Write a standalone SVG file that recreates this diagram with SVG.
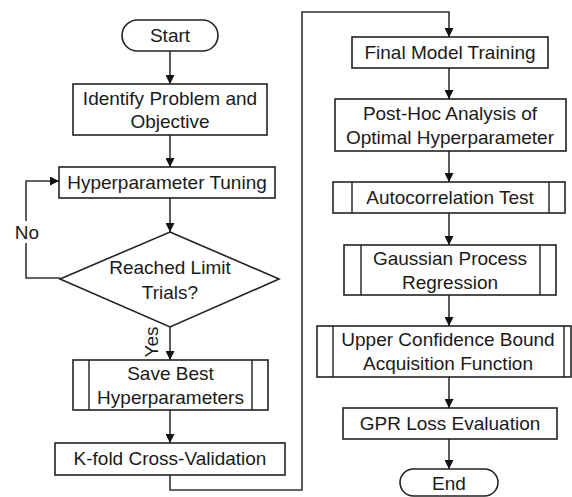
<svg xmlns="http://www.w3.org/2000/svg" width="572" height="497" viewBox="0 0 572 497">
  <style>
    .shape { fill: #ffffff; stroke: #222222; stroke-width: 1.6; }
    .bar { fill: none; stroke: #222222; stroke-width: 1.4; }
    .wire { fill: none; stroke: #333333; stroke-width: 1.6; }
    .label { font-family: "Liberation Sans", Arial, sans-serif; font-size: 19px; fill: #1a1a1a; text-anchor: middle; }
  </style>
  <defs>
    <marker id="arrow" viewBox="0 0 10 10" refX="10" refY="5" markerWidth="11" markerHeight="9" markerUnits="userSpaceOnUse" orient="auto">
      <path d="M0,0 L10,5 L0,10 Z" fill="#111111"/>
    </marker>
  </defs>
  <rect width="572" height="497" fill="#ffffff"/>

  <!-- connectors -->
  <g id="connectors">
    <path class="wire" d="M170,51 V84" marker-end="url(#arrow)"/>
    <path class="wire" d="M170,135 V167" marker-end="url(#arrow)"/>
    <path class="wire" d="M170,198 V232" marker-end="url(#arrow)"/>
    <path class="wire" d="M170,327 V360" marker-end="url(#arrow)"/>
    <path class="wire" d="M170,410 V443" marker-end="url(#arrow)"/>
    <path class="wire" d="M60,278 H26 V181 H59" marker-end="url(#arrow)"/>
    <path class="wire" d="M170,475 V490 H302 V12 H449 V37" marker-end="url(#arrow)"/>
    <path class="wire" d="M449,68 V99" marker-end="url(#arrow)"/>
    <path class="wire" d="M449,151 V182" marker-end="url(#arrow)"/>
    <path class="wire" d="M449,213 V245" marker-end="url(#arrow)"/>
    <path class="wire" d="M449,295 V326" marker-end="url(#arrow)"/>
    <path class="wire" d="M449,377 V408" marker-end="url(#arrow)"/>
    <path class="wire" d="M449,439 V469" marker-end="url(#arrow)"/>
    <g id="label-no">
      <rect x="13" y="221" width="28" height="22" fill="#ffffff"/>
      <text class="label" x="27" y="239">No</text>
    </g>
    <g id="label-yes">
      <rect x="140" y="326" width="22" height="32" fill="#ffffff"/>
      <text class="label" transform="translate(158,342) rotate(-90)" x="0" y="0">Yes</text>
    </g>
  </g>

  <!-- left column -->
  <g id="start">
    <rect class="shape" x="122" y="20" width="96" height="31" rx="15.5" ry="15.5"/>
    <text class="label" x="170" y="42">Start</text>
  </g>
  <g id="identify">
    <rect class="shape" x="73" y="84" width="194" height="51"/>
    <text class="label" x="170" y="104.5">Identify Problem and</text>
    <text class="label" x="170" y="128">Objective</text>
  </g>
  <g id="tuning">
    <rect class="shape" x="59" y="167" width="216" height="31"/>
    <text class="label" x="167" y="189">Hyperparameter Tuning</text>
  </g>
  <g id="limit">
    <polygon class="shape" points="170,232 279,279 170,327 60,279"/>
    <text class="label" x="170" y="273.5">Reached Limit</text>
    <text class="label" x="170" y="298.5">Trials?</text>
  </g>
  <g id="save">
    <rect class="shape" x="73" y="360" width="195" height="50"/>
    <path class="bar" d="M89,360 V410 M252,360 V410"/>
    <text class="label" x="170.5" y="380">Save Best</text>
    <text class="label" x="170.5" y="404">Hyperparameters</text>
  </g>
  <g id="kfold">
    <rect class="shape" x="55" y="443" width="230" height="32"/>
    <text class="label" x="170" y="465">K-fold Cross-Validation</text>
  </g>

  <!-- right column -->
  <g id="final">
    <rect class="shape" x="352" y="37" width="196" height="31"/>
    <text class="label" x="450" y="59">Final Model Training</text>
  </g>
  <g id="posthoc">
    <rect class="shape" x="335" y="99" width="231" height="52"/>
    <text class="label" x="450" y="119.5">Post-Hoc Analysis of</text>
    <text class="label" x="450" y="143.5">Optimal Hyperparameter</text>
  </g>
  <g id="autocorr">
    <rect class="shape" x="333" y="182" width="232" height="31"/>
    <path class="bar" d="M352,182 V213 M549,182 V213"/>
    <text class="label" x="450" y="204">Autocorrelation Test</text>
  </g>
  <g id="gpr">
    <rect class="shape" x="344" y="245" width="212" height="50"/>
    <path class="bar" d="M361,245 V295 M540,245 V295"/>
    <text class="label" x="450" y="264.5">Gaussian Process</text>
    <text class="label" x="450" y="288.5">Regression</text>
  </g>
  <g id="ucb">
    <rect class="shape" x="317" y="326" width="254" height="51"/>
    <path class="bar" d="M333,326 V377 M564,326 V377"/>
    <text class="label" x="448" y="346">Upper Confidence Bound</text>
    <text class="label" x="448" y="370">Acquisition Function</text>
  </g>
  <g id="loss">
    <rect class="shape" x="343" y="408" width="214" height="31"/>
    <text class="label" x="450" y="430">GPR Loss Evaluation</text>
  </g>
  <g id="end">
    <rect class="shape" x="400" y="469" width="98" height="27" rx="13.5" ry="13.5"/>
    <text class="label" x="449" y="489.5">End</text>
  </g>
</svg>
